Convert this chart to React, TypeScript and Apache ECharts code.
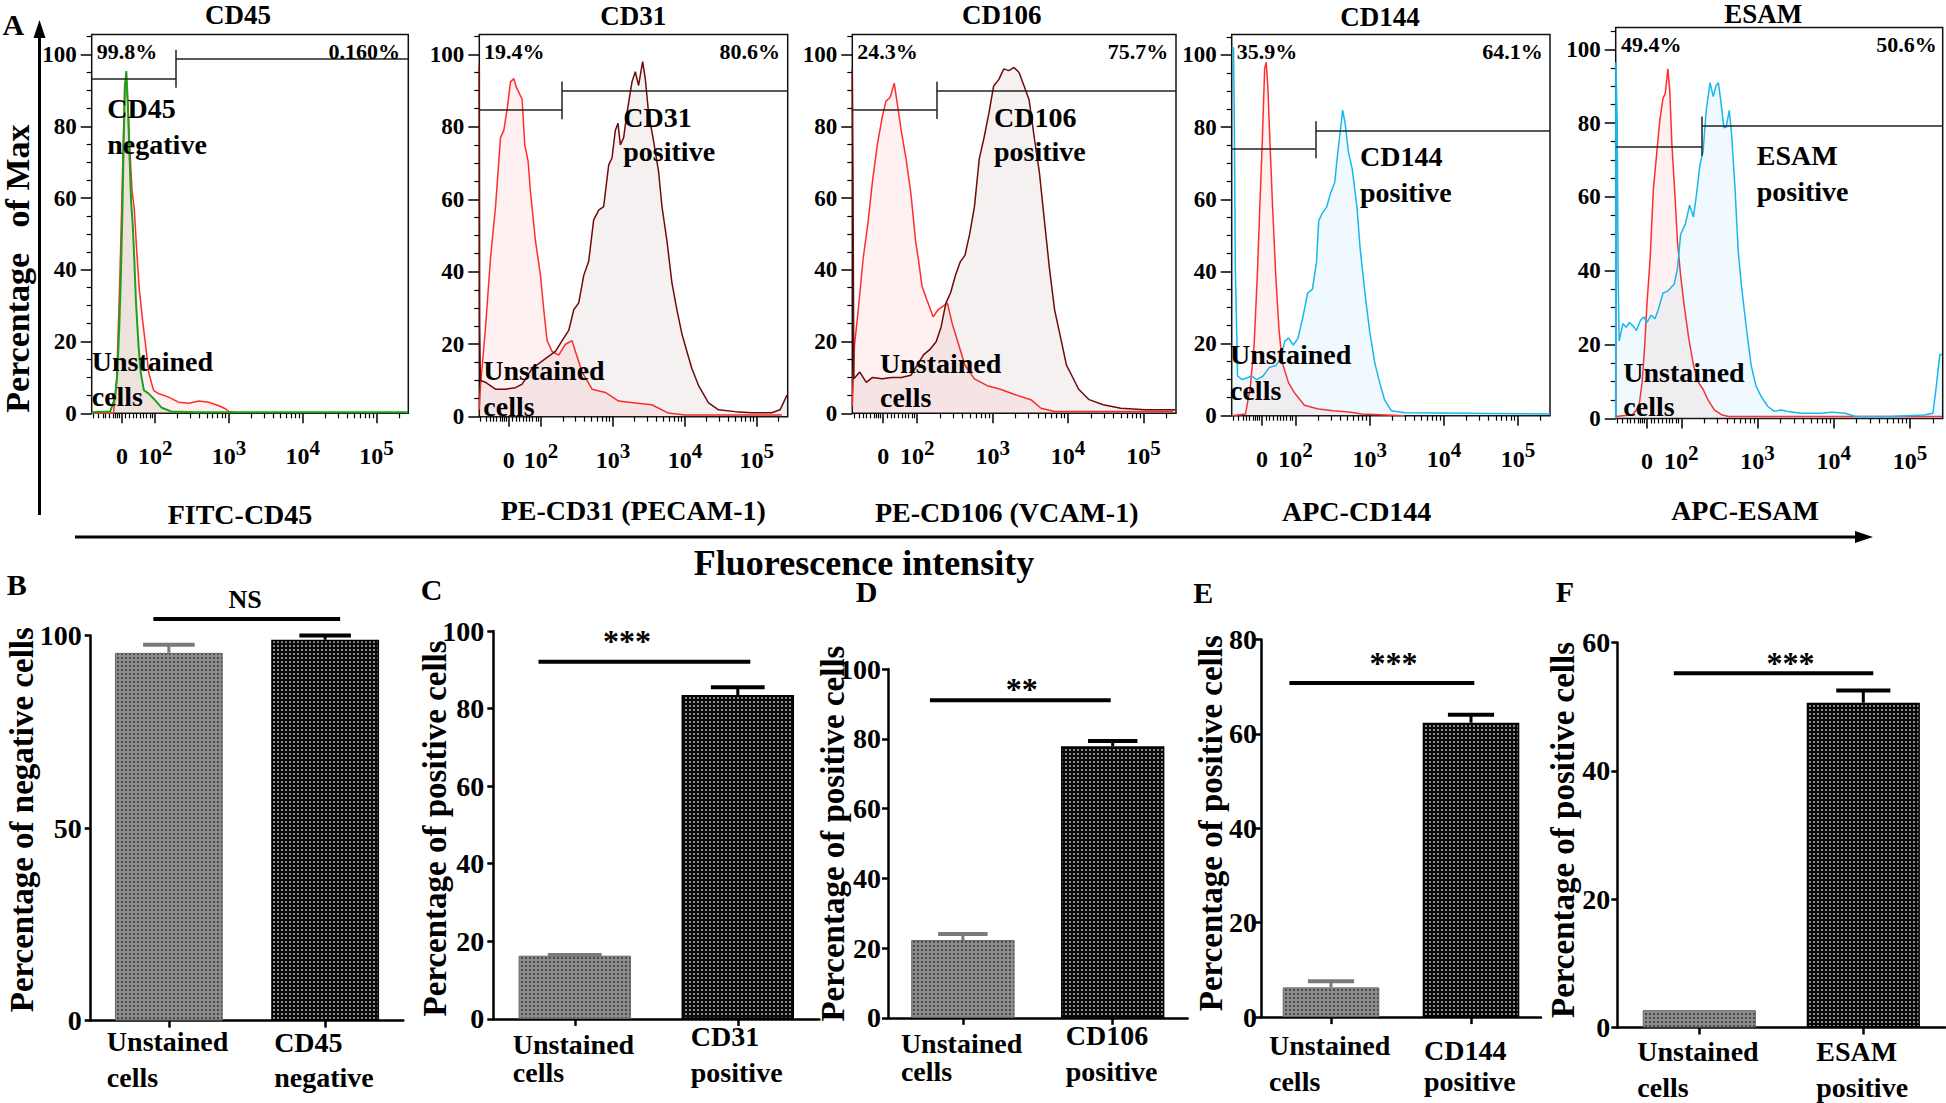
import React, { useEffect, useRef } from "react";
import * as echarts from "echarts";

const FONT = '"Liberation Serif", "Times New Roman", Times, serif';

// ---------- Panel A : flow cytometry histograms (x = logicle display, decade units; y = % of max)
const X_MIN = 1.14;
const X_MAX = 5.43;
const X_ZERO = 1.55;
const X_MAJOR_TICKS = [X_ZERO, 2, 3, 4, 5];
const X_MAJOR_LABELS = ["0", "2", "3", "4", "5"];
const X_LINEAR_MINOR = [1.16, 1.23, 1.29, 1.33, 1.38, 1.43, 1.46, 1.49, 1.51, 1.6, 1.65, 1.7, 1.75, 1.8, 1.84, 1.88, 1.93, 1.96];
const Y_MAJOR_TICKS = [0, 20, 40, 60, 80, 100];
const Y_MINOR_TICKS = [5, 10, 15, 25, 30, 35, 45, 50, 55, 65, 70, 75, 85, 90, 95, 105];

const HIST_TITLES = ["CD45", "CD31", "CD106", "CD144", "ESAM"];
const HIST_AXIS_NAMES = ["FITC-CD45", "PE-CD31 (PECAM-1)", "PE-CD106 (VCAM-1)", "APC-CD144", "APC-ESAM"];
const GATE_LEFT_PCT = ["99.8%", "19.4%", "24.3%", "35.9%", "49.4%"];
const GATE_RIGHT_PCT = ["0.160%", "80.6%", "75.7%", "64.1%", "50.6%"];
const STAINED_LABELS = [["CD45", "negative"], ["CD31", "positive"], ["CD106", "positive"], ["CD144", "positive"], ["ESAM", "positive"]];
const UNSTAINED_LABEL = ["Unstained", "cells"];
const GATE_X = [2.28, 2.29, 2.26, 2.27, 2.27];
const GATE_LEFT_Y = [93.2, 84.6, 84.5, 73.9, 73.7];
const GATE_RIGHT_Y = [98.8, 90.0, 89.9, 79.1, 79.3];
const HIST_COLORS = ["#1aa31a", "#6e0b0b", "#6e0b0b", "#18b7ee", "#18b7ee"];
const HIST_FILLS = ["rgba(120,130,90,0.18)", "rgba(130,50,50,0.10)", "rgba(130,50,50,0.10)", "rgba(40,190,240,0.10)", "rgba(40,190,240,0.10)"];

const CD45_UNSTAINED = [[1.14,0],[1.435,0],[1.478,9.3],[1.522,38],[1.557,67],[1.587,92],[1.609,93],[1.63,86],[1.661,72],[1.687,62],[1.717,57],[1.748,46],[1.783,35],[1.826,26.6],[1.87,19],[1.913,11.3],[1.978,6.4],[2.045,5.5],[2.182,4.5],[2.318,3.1],[2.455,2.8],[2.591,3.4],[2.727,3.1],[2.864,2.1],[2.957,1.2],[3.0,0.5],[3.091,0.2]];
const CD45_STAINED = [[1.14,0.3],[1.391,0.5],[1.457,4.5],[1.487,11],[1.513,23.8],[1.535,38],[1.557,57],[1.574,76.6],[1.591,91],[1.609,95.4],[1.63,86],[1.652,72],[1.674,59],[1.696,52.6],[1.717,43],[1.739,31.4],[1.774,19],[1.804,11.3],[1.848,6.4],[1.913,5.5],[2.0,3.6],[2.087,1.6],[2.217,0.5],[2.565,0.3],[5.43,0.3]];

const CD31_UNSTAINED = [[1.14,2],[1.157,8.6],[1.227,24.8],[1.296,43.8],[1.366,58],[1.435,77],[1.481,79],[1.528,85],[1.574,92.4],[1.62,93.3],[1.653,91],[1.69,89.5],[1.736,87.6],[1.773,75],[1.819,70.5],[1.852,62],[1.921,48.6],[1.991,39],[2.037,29.5],[2.083,21],[2.153,18],[2.245,17],[2.338,20],[2.431,21],[2.477,18],[2.569,12.4],[2.708,7.6],[2.894,6.7],[3.079,4.3],[3.31,3.8],[3.54,3.3],[3.77,1],[4.0,0.5],[5.35,0.5]];
const CD31_STAINED = [[1.14,97],[1.145,25],[1.155,10],[1.227,9.5],[1.366,7.6],[1.505,7.6],[1.644,8],[1.736,9],[1.875,13.3],[2.06,16],[2.199,18],[2.292,21],[2.384,23.8],[2.454,29.5],[2.523,31.4],[2.593,39],[2.662,42.9],[2.731,54.3],[2.801,57],[2.87,58],[2.94,69.5],[2.986,71.4],[3.032,79],[3.069,81],[3.102,75],[3.148,77],[3.194,83.8],[3.264,92.4],[3.31,95.2],[3.356,91.4],[3.412,98],[3.449,93.3],[3.495,83.8],[3.565,76],[3.634,67.6],[3.681,58],[3.75,48.6],[3.819,37],[3.889,29.5],[3.958,22.9],[4.028,18],[4.097,13.3],[4.19,8.6],[4.329,3.8],[4.468,1.9],[4.699,1.4],[4.931,1.1],[5.208,1.1],[5.324,1.9],[5.37,3.8],[5.42,6]];

const CD106_UNSTAINED = [[1.14,2],[1.169,19],[1.219,28.8],[1.283,43],[1.346,52.8],[1.409,65],[1.473,75],[1.536,82.5],[1.586,87],[1.641,88],[1.696,92],[1.738,86],[1.789,78.7],[1.852,71],[1.916,61.4],[1.979,48],[2.021,42.2],[2.063,35.5],[2.127,31.7],[2.211,26.9],[2.274,28.8],[2.338,29.8],[2.401,30.7],[2.464,25],[2.549,19.2],[2.633,13.4],[2.759,9.6],[2.928,7.7],[3.103,6.7],[3.283,5.3],[3.507,3.8],[3.641,1.4],[3.821,0.5],[5.395,0.5]];
const CD106_STAINED = [[1.14,96],[1.15,63],[1.16,9.6],[1.24,11.5],[1.325,8.6],[1.409,10],[1.536,9.6],[1.662,10],[1.789,10],[1.916,10.6],[2.0,13.4],[2.084,16.3],[2.169,17.8],[2.253,20],[2.316,24],[2.38,30.7],[2.443,33.6],[2.506,38.4],[2.57,42.2],[2.633,44],[2.696,50],[2.759,57.6],[2.823,71],[2.886,76.8],[2.949,83.5],[3.013,91.2],[3.081,93],[3.148,96],[3.215,95.5],[3.283,96.4],[3.35,95],[3.417,91.2],[3.484,87.3],[3.552,76.8],[3.619,67.2],[3.686,53.7],[3.753,40.3],[3.821,28.8],[3.91,20.2],[3.978,13.4],[4.047,10.6],[4.14,6.7],[4.279,3.8],[4.465,2.4],[4.698,1.4],[5.023,1],[5.42,1]];

const CD144_UNSTAINED = [[1.14,0],[1.326,0.5],[1.391,8],[1.442,19.6],[1.485,38.8],[1.519,57.9],[1.554,77],[1.584,96.2],[1.605,98],[1.627,91.4],[1.657,75],[1.691,57.9],[1.734,38.8],[1.777,24],[1.82,14.8],[1.906,9.1],[1.991,6.2],[2.12,2.9],[2.292,1.9],[2.506,1.4],[2.721,1],[2.893,0.5],[3.471,0]];
const CD144_STAINED = [[1.14,102],[1.165,102],[1.176,80],[1.189,40.7],[1.202,29],[1.219,11],[1.283,10],[1.348,10.5],[1.412,11],[1.476,10],[1.562,11],[1.648,13.4],[1.734,13.9],[1.798,15.8],[1.854,20.6],[1.906,21.5],[1.97,19.6],[2.034,21.5],[2.099,27.3],[2.163,34],[2.227,35],[2.283,42.6],[2.313,54],[2.356,56],[2.421,57.9],[2.472,61.7],[2.528,64.6],[2.571,73.2],[2.605,79],[2.635,84.7],[2.67,80.9],[2.712,73.2],[2.764,68.4],[2.828,57.9],[2.871,46.4],[2.936,34],[3.0,23.4],[3.067,14.8],[3.135,9.1],[3.202,4.3],[3.291,1.4],[3.47,0.8],[5.43,0.5]];

const ESAM_UNSTAINED = [[1.14,0.5],[1.361,1],[1.445,3.3],[1.487,9.8],[1.521,20],[1.55,31],[1.592,43.4],[1.634,62],[1.676,71.4],[1.718,80.7],[1.761,86.8],[1.79,88],[1.824,94.7],[1.849,89],[1.878,74],[1.916,61],[1.95,48],[1.992,38.7],[2.034,31.3],[2.097,21.9],[2.16,14.5],[2.223,9.8],[2.286,7.9],[2.349,5.1],[2.433,2.3],[2.538,0.9],[2.622,0.5],[5.42,0.5]];
const ESAM_STAINED = [[1.14,0],[1.142,96.5],[1.16,80.7],[1.172,38.7],[1.185,21],[1.235,25.7],[1.277,24.7],[1.319,26],[1.37,25],[1.412,23.8],[1.466,26.6],[1.508,27.5],[1.55,26],[1.605,28],[1.655,27],[1.697,29.4],[1.761,34],[1.824,34.5],[1.908,36.4],[1.95,40.6],[1.992,49.9],[2.055,52.7],[2.109,57.8],[2.16,54.6],[2.202,61],[2.244,68.6],[2.286,72.3],[2.328,83.5],[2.378,91],[2.42,87.2],[2.454,90],[2.487,91],[2.517,86.3],[2.559,78.8],[2.588,78.8],[2.63,83.5],[2.664,76],[2.706,62],[2.748,45.2],[2.79,35.9],[2.853,24.7],[2.916,14.5],[2.979,8.9],[3.044,6.1],[3.133,3.3],[3.221,1.9],[3.31,2.3],[3.398,1.9],[3.575,1.4],[3.841,1.4],[3.973,1.7],[4.153,1.4],[4.288,0.5],[4.739,0.5],[5.189,0.9],[5.302,1.4],[5.347,8.9],[5.392,17.3],[5.42,17.3]];

const HIST_UNSTAINED = [CD45_UNSTAINED, CD31_UNSTAINED, CD106_UNSTAINED, CD144_UNSTAINED, ESAM_UNSTAINED];
const HIST_STAINED = [CD45_STAINED, CD31_STAINED, CD106_STAINED, CD144_STAINED, ESAM_STAINED];

// ---------- Panels B-F : bar charts
const BAR_CATEGORIES = [
  ["Unstained cells", "CD45 negative"],
  ["Unstained cells", "CD31 positive"],
  ["Unstained cells", "CD106 positive"],
  ["Unstained cells", "CD144 positive"],
  ["Unstained cells", "ESAM positive"],
];
const BAR_MEANS = [[95.5, 98.9], [16.3, 83.5], [22.3, 77.9], [6.3, 62.4], [2.7, 50.6]];
const BAR_SEM = [[2.1, 1.1], [0.15, 2.0], [1.7, 1.5], [1.3, 1.7], [0, 1.9]];
const BAR_Y_TITLES = [
  "Percentage of negative cells",
  "Percentage of positive cells",
  "Percentage of positive cells",
  "Percentage of positive cells",
  "Percentage of positive cells",
];
const BAR_Y_MAX = [100, 100, 100, 80, 60];
const BAR_Y_INTERVAL = [50, 20, 20, 20, 20];
const SIG_TEXT = ["NS", "***", "**", "***", "***"];
const SIG_Y = [104.3, 92.1, 91.1, 70.8, 55.2];
const PANEL_LETTERS = ["B", "C", "D", "E", "F"];

// ---------- layout (pixels)
const TOP_LAYOUT = [
  { left: 91.7, top: 34.4, width: 316.6, height: 378.9, yMax: 105.6, titleX: 238, titleY: 15, nameX: 240, nameY: 514, pctY: 51, pctLX: 96.7, pctRX: 400, posX: 107.3, posY: [108.5, 144.6], unX: 91.7, unY: [361.6, 396] },
  { left: 479.3, top: 34.4, width: 308.4, height: 382.3, yMax: 105.5, titleX: 633.3, titleY: 15.5, nameX: 633.3, nameY: 510, pctY: 51.7, pctLX: 484, pctRX: 780, posX: 623.3, posY: [117, 151.5], unX: 483.3, unY: [370, 406.4] },
  { left: 852.3, top: 34.4, width: 323.7, height: 378.9, yMax: 105.6, titleX: 1001.7, titleY: 15, nameX: 1006.7, nameY: 512, pctY: 51.7, pctLX: 857.3, pctRX: 1168.3, posX: 994, posY: [117, 151.5], unX: 880, unY: [363.3, 397.8] },
  { left: 1231.7, top: 34.4, width: 318.3, height: 381.3, yMax: 105.7, titleX: 1380, titleY: 17.2, nameX: 1356.7, nameY: 511, pctY: 51.7, pctLX: 1236.7, pctRX: 1542.7, posX: 1360, posY: [156.7, 192.9], unX: 1230, unY: [354.7, 390.9] },
  { left: 1615.7, top: 27.6, width: 327, height: 390.8, yMax: 105.9, titleX: 1763.3, titleY: 14, nameX: 1745, nameY: 510, pctY: 44.8, pctLX: 1621, pctRX: 1936.7, posX: 1756.7, posY: [155, 191], unX: 1623.3, unY: [372, 406.4] },
];
const BOTTOM_LAYOUT = [
  { left: 90.7, top: 635.5, width: 312.6, height: 385.1, letterX: 16.7, letterY: 584.2, titleX: 21.7, titleY: 819.7, yLabelMargin: 9, labelMargin: 3, labelPad: [0, 1], sigL: -15.5, sigR: 15, sigDx: -1.7, sigDy: -19, sigSize: 26 },
  { left: 493.3, top: 631, width: 326, height: 387.9, letterX: 431.7, letterY: 589.4, titleX: 435, titleY: 828.4, yLabelMargin: 9, labelMargin: 0, labelPad: [15, 0], sigL: -36.3, sigR: 12.5, sigDx: -17.5, sigDy: -20.7, sigSize: 32 },
  { left: 888, top: 669.1, width: 299.6, height: 348.7, letterX: 866.7, letterY: 591.2, titleX: 833.3, titleY: 833.6, yLabelMargin: 7, labelMargin: 0, labelPad: [16, 0], sigL: -33, sigR: -2, sigDx: 1.4, sigDy: -11, sigSize: 32 },
  { left: 1261, top: 639.6, width: 280, height: 377.5, letterX: 1203.3, letterY: 592.9, titleX: 1211, titleY: 823.2, yLabelMargin: 4, labelMargin: 10, labelPad: [0, 10], sigL: -41.6, sigR: 3.3, sigDx: 11.7, sigDy: -19.7, sigSize: 32 },
  { left: 1617.3, top: 642.4, width: 328, height: 385.1, letterX: 1565, letterY: 591.2, titleX: 1563.3, titleY: 830, yLabelMargin: 7, labelMargin: 6, labelPad: [0, 0], sigL: -25.5, sigR: 10, sigDx: 17, sigDy: -9.9, sigSize: 32 },
];

function xMinorTicks(): number[] {
  const out = [...X_LINEAR_MINOR];
  for (let n = 2; n <= 5; n++) {
    for (let k = 2; k <= 9; k++) {
      const v = n + Math.log10(k);
      if (v < X_MAX) out.push(v);
    }
  }
  return out;
}

function txt(text: string, x: number, y: number, size: number, align = "center", extra: any = {}) {
  return {
    type: "text",
    x,
    y,
    silent: true,
    z: 50,
    ...extra,
    style: {
      text,
      font: `bold ${size}px ${FONT}`,
      fill: "#000",
      align,
      verticalAlign: "middle",
      textAlign: align,
      textVerticalAlign: "middle",
    },
  };
}

function dotPattern(bg: string, dot: string) {
  const c = document.createElement("canvas");
  c.width = 4;
  c.height = 4;
  const g = c.getContext("2d")!;
  g.fillStyle = bg;
  g.fillRect(0, 0, 4, 4);
  g.fillStyle = dot;
  g.fillRect(1, 1, 2, 2);
  return { image: c, repeat: "repeat", imageWidth: 4, imageHeight: 4 };
}

function buildOption() {
  const measureCtx = document.createElement("canvas").getContext("2d")!;
  measureCtx.font = `bold 28px ${FONT}`;
  const measure = (s: string) => Math.ceil(measureCtx.measureText(s).width) + 2;

  const grid: any[] = [];
  const xAxis: any[] = [];
  const yAxis: any[] = [];
  const series: any[] = [];
  const graphic: any[] = [];
  const X_MINOR = xMinorTicks();

  TOP_LAYOUT.forEach((L) =>
    grid.push({ left: L.left, top: L.top, width: L.width, height: L.height, show: true, borderColor: "#111", borderWidth: 1.5, backgroundColor: "transparent" })
  );
  BOTTOM_LAYOUT.forEach((L) => grid.push({ left: L.left, top: L.top, width: L.width, height: L.height, show: false }));

  // --- top axes
  const tickLabelRich = {
    b: { fontSize: 24, fontWeight: "bold", fontFamily: FONT, color: "#000", lineHeight: 24, padding: [14, 0, 0, 0] },
    s: { fontSize: 21, fontWeight: "bold", fontFamily: FONT, color: "#000", lineHeight: 21, verticalAlign: "top" },
  };
  TOP_LAYOUT.forEach((L, p) => {
    xAxis.push({
      type: "value", gridIndex: p, position: "bottom", min: X_MIN, max: X_MAX,
      axisLine: { show: false }, splitLine: { show: false },
      axisTick: { show: true, customValues: X_MAJOR_TICKS, length: 10, lineStyle: { color: "#000", width: 1.5 } },
      axisLabel: {
        show: true, customValues: X_MAJOR_TICKS, margin: 24, rich: tickLabelRich,
        formatter: (v: number) => {
          const i = X_MAJOR_TICKS.findIndex((t) => Math.abs(t - v) < 1e-6);
          const lab = X_MAJOR_LABELS[i < 0 ? 0 : i];
          return lab === "0" ? "{b|0}" : `{b|10}{s|${lab}}`;
        },
      },
    });
  });
  TOP_LAYOUT.forEach((L, p) => {
    xAxis.push({
      type: "value", gridIndex: p, position: "bottom", min: X_MIN, max: X_MAX,
      axisLine: { show: false }, splitLine: { show: false }, axisLabel: { show: false },
      axisTick: { show: true, customValues: X_MINOR, length: 5, lineStyle: { color: "#000", width: 1.2 } },
    });
  });
  BOTTOM_LAYOUT.forEach((L, k) => {
    const cats = BAR_CATEGORIES[k];
    const rich: any = {};
    cats.forEach((c, i) => {
      const parts = c.split(" ");
      const w = Math.max(...parts.map(measure));
      const base = { width: w, align: "left", fontSize: 28, fontWeight: "bold", fontFamily: FONT, color: "#000", lineHeight: 36 };
      rich["a" + i] = { ...base, padding: [L.labelPad[i], 0, 0, 0] };
      rich["b" + i] = { ...base };
    });
    xAxis.push({
      type: "category", gridIndex: 5 + k, data: cats, position: "bottom",
      axisLine: { show: true, onZero: false, lineStyle: { color: "#000", width: 2.5 } },
      axisTick: { show: true, alignWithLabel: true, length: 7, lineStyle: { color: "#000", width: 2.5 } },
      splitLine: { show: false },
      axisLabel: {
        interval: 0, margin: L.labelMargin, rich,
        formatter: (value: string, index: number) => {
          const parts = value.split(" ");
          return `{a${index}|${parts[0]}}\n{b${index}|${parts[1]}}`;
        },
      },
    });
  });

  // --- y axes
  TOP_LAYOUT.forEach((L, p) => {
    yAxis.push({
      type: "value", gridIndex: p, position: "left", min: 0, max: L.yMax,
      axisLine: { show: false }, splitLine: { show: false },
      axisTick: { show: true, customValues: Y_MAJOR_TICKS, length: 11, lineStyle: { color: "#000", width: 1.5 } },
      axisLabel: { show: true, customValues: Y_MAJOR_TICKS, margin: 15, fontSize: 23, fontWeight: "bold", fontFamily: FONT, color: "#000" },
    });
  });
  TOP_LAYOUT.forEach((L, p) => {
    yAxis.push({
      type: "value", gridIndex: p, position: "left", min: 0, max: L.yMax,
      axisLine: { show: false }, splitLine: { show: false }, axisLabel: { show: false },
      axisTick: { show: true, customValues: Y_MINOR_TICKS, length: 5, lineStyle: { color: "#000", width: 1.2 } },
    });
  });
  BOTTOM_LAYOUT.forEach((L, k) => {
    yAxis.push({
      type: "value", gridIndex: 5 + k, min: 0, max: BAR_Y_MAX[k], interval: BAR_Y_INTERVAL[k],
      axisLine: { show: true, lineStyle: { color: "#000", width: 2.5 } },
      axisTick: { show: true, length: 6, lineStyle: { color: "#000", width: 2.5 } },
      splitLine: { show: false },
      axisLabel: { margin: L.yLabelMargin, fontSize: 28, fontWeight: "bold", fontFamily: FONT, color: "#000" },
    });
  });

  // --- histogram series
  TOP_LAYOUT.forEach((L, p) => {
    series.push({
      type: "line", xAxisIndex: p, yAxisIndex: p, data: HIST_UNSTAINED[p], symbol: "none", silent: true,
      lineStyle: { color: "#ff2d2d", width: 1.5 }, areaStyle: { color: "rgba(255,80,80,0.12)" }, z: 2,
    });
    series.push({
      type: "line", xAxisIndex: p, yAxisIndex: p, data: HIST_STAINED[p], symbol: "none", silent: true,
      lineStyle: { color: HIST_COLORS[p], width: p === 0 ? 2 : 1.5 }, areaStyle: { color: HIST_FILLS[p] }, z: 3,
      markLine: {
        silent: true, symbol: ["none", "none"], label: { show: false },
        lineStyle: { color: "#222", width: 1.5, type: "solid" },
        data: [
          [{ coord: [X_MIN, GATE_LEFT_Y[p]] }, { coord: [GATE_X[p], GATE_LEFT_Y[p]] }],
          [{ coord: [GATE_X[p], GATE_RIGHT_Y[p]] }, { coord: [X_MAX, GATE_RIGHT_Y[p]] }],
          [{ coord: [GATE_X[p], GATE_LEFT_Y[p] - 2.5] }, { coord: [GATE_X[p], GATE_RIGHT_Y[p] + 2.5] }],
        ],
      },
    });
  });

  // --- bar series
  const grayFill = dotPattern("#8c8c8c", "#4a4a4a");
  const blackFill = dotPattern("#0a0a0a", "#8a8a8a");
  BOTTOM_LAYOUT.forEach((L, k) => {
    const xi = 10 + k;
    series.push({
      type: "bar", xAxisIndex: xi, yAxisIndex: xi, barWidth: "69%", silent: true,
      data: BAR_MEANS[k].map((v, i) => ({
        value: v,
        itemStyle: i === 0 ? { color: grayFill, borderColor: "#6a6a6a", borderWidth: 1 } : { color: blackFill, borderColor: "#000", borderWidth: 1.5 },
      })),
    });
    series.push({
      type: "custom", xAxisIndex: xi, yAxisIndex: xi, silent: true, z: 5,
      data: BAR_MEANS[k].map((v, i) => [i, v, BAR_SEM[k][i]]),
      renderItem: (params: any, api: any) => {
        const i = api.value(0);
        const m = api.value(1);
        const e = api.value(2);
        if (!e) return { type: "group", children: [] };
        const base = api.coord([i, m]);
        const top = api.coord([i, m + e]);
        const half = api.size([1, 0])[0] * 0.165;
        const color = i === 0 ? "#7a7a7a" : "#000";
        return {
          type: "group",
          children: [
            { type: "line", shape: { x1: base[0], y1: base[1], x2: top[0], y2: top[1] }, style: { stroke: color, lineWidth: 3 } },
            { type: "line", shape: { x1: top[0] - half, y1: top[1], x2: top[0] + half, y2: top[1] }, style: { stroke: color, lineWidth: 4 } },
          ],
        };
      },
    });
    series.push({
      type: "custom", xAxisIndex: xi, yAxisIndex: xi, silent: true, z: 5,
      data: [[0, SIG_Y[k]]],
      renderItem: (params: any, api: any) => {
        const y = api.value(1);
        const p0 = api.coord([0, y]);
        const p1 = api.coord([1, y]);
        const x1 = p0[0] + L.sigL;
        const x2 = p1[0] + L.sigR;
        return {
          type: "group",
          children: [
            { type: "line", shape: { x1, y1: p0[1], x2, y2: p0[1] }, style: { stroke: "#000", lineWidth: 4 } },
            {
              type: "text", x: (x1 + x2) / 2 + L.sigDx, y: p0[1] + L.sigDy,
              style: { text: SIG_TEXT[k], font: `bold ${L.sigSize}px ${FONT}`, fill: "#000", align: "center", verticalAlign: "middle" },
            },
          ],
        };
      },
    });
  });

  // --- decorations and texts
  graphic.push(txt("A", 13.3, 24, 30));
  graphic.push({ type: "line", silent: true, shape: { x1: 39.5, y1: 515, x2: 39.5, y2: 34 }, style: { stroke: "#000", lineWidth: 3 } });
  graphic.push({ type: "polygon", silent: true, shape: { points: [[39.5, 20], [33.5, 38], [45.5, 38]] }, style: { fill: "#000" } });
  graphic.push(txt("Percentage   of Max", 17, 268.6, 34, "center", { rotation: Math.PI / 2 }));
  graphic.push({ type: "line", silent: true, shape: { x1: 75, y1: 537, x2: 1858, y2: 537 }, style: { stroke: "#000", lineWidth: 3 } });
  graphic.push({ type: "polygon", silent: true, shape: { points: [[1873, 537], [1855, 531], [1855, 543]] }, style: { fill: "#000" } });
  graphic.push(txt("Fluorescence intensity", 864, 563, 36));

  TOP_LAYOUT.forEach((L, p) => {
    graphic.push(txt(HIST_TITLES[p], L.titleX, L.titleY, 27));
    graphic.push(txt(HIST_AXIS_NAMES[p], L.nameX, L.nameY, 28));
    graphic.push(txt(GATE_LEFT_PCT[p], L.pctLX, L.pctY, 22, "left"));
    graphic.push(txt(GATE_RIGHT_PCT[p], L.pctRX, L.pctY, 22, "right"));
    graphic.push(txt(STAINED_LABELS[p][0], L.posX, L.posY[0], 28, "left"));
    graphic.push(txt(STAINED_LABELS[p][1], L.posX, L.posY[1], 28, "left"));
    graphic.push(txt(UNSTAINED_LABEL[0], L.unX, L.unY[0], 28, "left"));
    graphic.push(txt(UNSTAINED_LABEL[1], L.unX, L.unY[1], 28, "left"));
  });
  BOTTOM_LAYOUT.forEach((L, k) => {
    graphic.push(txt(PANEL_LETTERS[k], L.letterX, L.letterY, 30));
    graphic.push(txt(BAR_Y_TITLES[k], L.titleX, L.titleY, 33, "center", { rotation: Math.PI / 2 }));
  });

  return {
    animation: false,
    backgroundColor: "#ffffff",
    textStyle: { fontFamily: FONT },
    grid,
    xAxis,
    yAxis,
    series,
    graphic,
  };
}

export default function App() {
  const ref = useRef<HTMLDivElement>(null);
  useEffect(() => {
    if (!ref.current) return;
    const chart = echarts.init(ref.current, null, { renderer: "svg" });
    chart.setOption(buildOption() as any);
    return () => chart.dispose();
  }, []);
  return (
    <div
      ref={ref}
      style={{ position: "fixed", left: 0, top: 0, width: 1946, height: 1103, background: "#fff" }}
    />
  );
}
